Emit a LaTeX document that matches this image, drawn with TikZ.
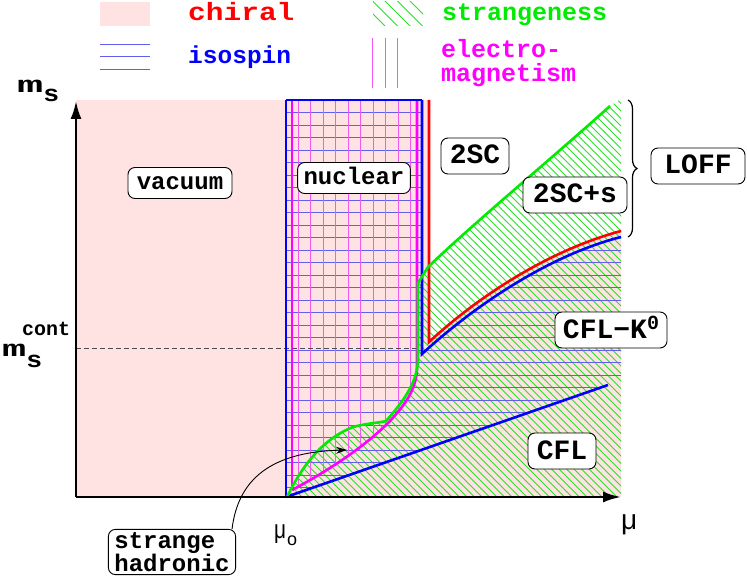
\documentclass[tikz,border=0pt]{standalone}
\usepackage{fontspec}
\setmonofont{Liberation Mono}
\newfontfamily\lsans{Liberation Sans}
\usetikzlibrary{arrows.meta,decorations.pathreplacing,calc}
\definecolor{pinkbg}{RGB}{255,226,226}
\definecolor{hblue}{RGB}{95,95,235}
\definecolor{hmag}{RGB}{240,90,240}
\definecolor{hgreen}{RGB}{40,225,40}
\definecolor{tgreen}{RGB}{0,235,0}
\definecolor{tmag}{RGB}{255,0,255}
\tikzset{
  lbl/.style={draw=black, line width=0.9pt, fill=white, rounded corners=7pt,
    font=\ttfamily\bfseries\fontsize{24}{23}\selectfont, inner xsep=6pt, inner ysep=5pt},
  lblsm/.style={lbl, text height=17pt, text depth=4pt},
  lblbig/.style={lbl, font=\ttfamily\bfseries\fontsize{28}{28}\selectfont,
    text height=20pt, text depth=4pt, inner ysep=6pt, inner xsep=8pt},
  legtxt/.style={anchor=base west, inner sep=0pt, font=\ttfamily\bfseries\fontsize{25}{25}\selectfont},
  axlbl/.style={anchor=base west, inner sep=0pt, font=\ttfamily\bfseries\fontsize{23}{23}\selectfont},
  bnd/.style={line width=2.6pt},
  hatchline/.style={line width=0.9pt},
  axis/.style={line width=2.5pt, -{Latex[length=18pt,width=11pt]}},
}
\def\greencurve{(287,497) .. controls (300,470) and (320,440) .. (353,427)
  .. controls (368,423) and (378,423) .. (386,421)
  .. controls (400,405) and (417,385) .. (418,360) -- (418,283) -- (428,267)
  .. controls (475,222) and (550,160) .. (610,106)}
\begin{document}
\begin{tikzpicture}[x=1pt,y=-1pt]
\useasboundingbox (0,0) rectangle (747,580);
% chiral (pink) background
\fill[pinkbg] (76,100) rectangle (621,497);
\fill[white] (429,99) -- (622,99) -- (622,231) .. controls (550,250) and (480,295) .. (429,342) -- cycle;
% strangeness hatch
\begin{scope}
  \clip \greencurve -- (621,99) -- (621,497) -- cycle;
  \foreach \c in {-330,-322.5,...,630} \draw[hgreen, hatchline] (\c,0) -- ++(600,600);
\end{scope}
% isospin hatch
\begin{scope}
  \clip (286,100) -- (422,100) -- (422,354) .. controls (475,305) and (550,255) .. (621,237)
    -- (621,380.5) -- (286,497) -- cycle;
  \foreach \k in {1,...,31} \draw[hblue, hatchline] (280,100+12.5*\k) -- (625,100+12.5*\k);
\end{scope}
% electromagnetism hatch
\begin{scope}
  \clip (292,100) -- (417,100) -- (417,370) .. controls (416,385) and (410,398) .. (397,413)
    .. controls (375,440) and (330,470) .. (292,490) -- cycle;
  \foreach \k in {0,...,9} \draw[hmag, hatchline] (298.3+12.5*\k,95) -- (298.3+12.5*\k,500);
\end{scope}
% dashed m_s^cont line
\draw[black!70, line width=0.8pt, dash pattern=on 5pt off 3pt] (76,348) -- (418,348);
% boundaries
\draw[tmag, bnd] (292,100) -- (292,490);
\draw[tmag, bnd] (417,100) -- (417,370) .. controls (416,385) and (410,398) .. (397,413)
    .. controls (375,440) and (330,470) .. (292,490);
\draw[blue, line width=1.6pt] (286,100) -- (422,100);
\draw[blue, bnd] (286,497) -- (286,100);
\draw[blue, bnd] (422,100) -- (422,354) .. controls (475,305) and (550,255) .. (621,237);
\draw[blue, bnd] (286,497) -- (608,385);
\draw[red, bnd] (429,100) -- (429,342) .. controls (480,295) and (550,250) .. (621,231);
\draw[tgreen, bnd] \greencurve;
% axes
\coordinate (O) at (76,497);
\coordinate (ytop) at (76,101);
\coordinate (xend) at (621,497);
\draw[axis] (O) -- (ytop);
\draw[axis] (O) -- (xend);
% brace
\coordinate (brtop) at (628,100);
\coordinate (brbot) at (628,237);
\draw[decorate, decoration={brace, amplitude=9pt}, line width=1.2pt] (brtop) -- (brbot);
% legend
\fill[pinkbg] (100,2) rectangle (150,26);
\foreach \y in {44.3,57,69.3} \draw[hblue, line width=1pt] (100,\y) -- (150,\y);
\begin{scope}
  \clip (373,2) rectangle (423,26);
  \foreach \c in {334,346.5,...,421} \draw[hgreen, hatchline] (\c,0) -- ++(40,40);
\end{scope}
\foreach \x in {372.7,385,397.3} \draw[hmag, line width=1pt] (\x,38) -- (\x,88);
\node[legtxt, text=red] (lchiral) at (188,21) {\scalebox{1.18}[1]{chiral}};
\node[legtxt, text=blue, font=\ttfamily\bfseries\fontsize{24.5}{24.5}\selectfont] (liso) at (188,64) {isospin};
\node[legtxt, text=tgreen] (lstr) at (442,21) {strangeness};
\node[legtxt, text=tmag] (lem1) at (441,58) {electro-};
\node[legtxt, text=tmag] (lem2) at (441,82) {magnetism};
% axis labels
\node[axlbl] (ms) at (17,93) {\scalebox{1.9}[1]{m}\raisebox{-9pt}{\scalebox{1.15}[1]{s}}};
\node[axlbl] (mscont) at (2,356) {\scalebox{1.75}[1]{m}\raisebox{-11pt}{\scalebox{1.15}[1]{s}}};
\node[axlbl, font=\ttfamily\bfseries\fontsize{20}{20}\selectfont] (mcc) at (22,335) {cont};
\node[anchor=base west, inner sep=0pt, font=\lsans\fontsize{28}{28}\selectfont] (mu) at (621,529) {μ};
\node[anchor=base west, inner sep=0pt, font=\lsans\fontsize{26}{26}\selectfont] (muo) at (274,538) {\scalebox{0.8}[1]{μ}\kern1pt\raisebox{-7pt}{\fontsize{18}{18}\selectfont o}};
% region labels
\node[lblsm, minimum width=104pt] (vac) at (180,183) {vacuum};
\node[lblsm, minimum width=112pt] (nuc) at (354,178) {nuclear};
\node[lblbig, minimum width=68pt] (tsc) at (475,156) {2SC};
\node[lblbig, minimum width=104pt] (tscs) at (575,195) {2SC+s};
\node[lblbig, minimum width=94pt] (loff) at (698,166) {LOFF};
\node[lblbig] (cflk) at (611,330) {CFL−K\raisebox{9pt}{\fontsize{20}{20}\selectfont 0}};
\node[lblbig, minimum width=68pt] (cfl) at (562,451) {CFL};
\node[lbl, align=left, inner ysep=3pt] (sh) at (172,552) {strange\\hadronic};
\coordinate (shtip) at (347,450);
\draw[line width=0.9pt, -{Stealth[length=11pt,width=7pt]}] ([xshift=-4pt]sh.north east)
  .. controls (238,480) and (270,452) .. (shtip);
\end{tikzpicture}
\end{document}
